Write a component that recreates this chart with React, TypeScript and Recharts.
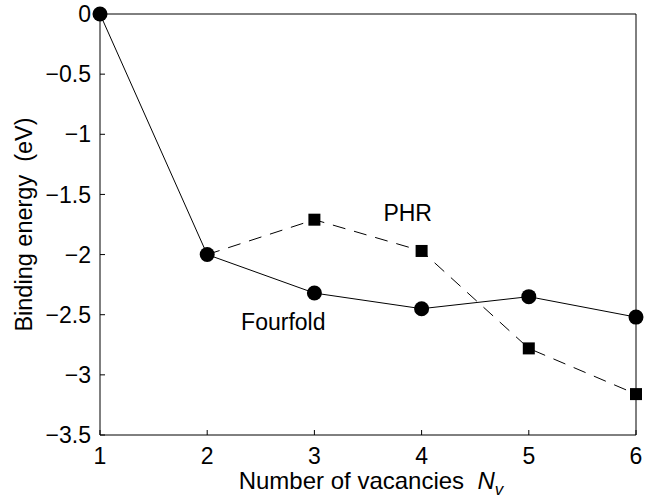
import { LineChart, Line, XAxis, YAxis, ReferenceDot } from "recharts";

// number of vacancies N_v
const vacancies = [1, 2, 3, 4, 5, 6];
// binding energies (eV)
const fourfold = [0, -2.0, -2.32, -2.45, -2.35, -2.52];
const phr = [null, -2.0, -1.71, -1.97, -2.78, -3.16];

const xTicks = [1, 2, 3, 4, 5, 6];
const yTicks = [0, -0.5, -1, -1.5, -2, -2.5, -3, -3.5];

// curve names written inside the plot: [text, x, y]
const curveLabels: [string, number, number][] = [
  ["PHR", 3.87, -1.65],
  ["Fourfold", 2.71, -2.56],
];

const data = vacancies.map((n, i) => ({ n, fourfold: fourfold[i], phr: phr[i] }));

const FONT = "'Liberation Sans', Arial, Helvetica, sans-serif";
const FS = 23;
const fmt = (v: number) => (v < 0 ? "\u2212" + String(-v) : String(v));

const Square = (props: any) => {
  const { cx, cy, index } = props;
  // at N=2 the curve starts under the Fourfold circle
  if (cx == null || cy == null || index === 1) return <g key={"s" + index} />;
  return <rect key={"s" + index} x={cx - 6} y={cy - 6} width={12} height={12} fill="#000" />;
};

export default function App() {
  return (
    <div style={{ position: "absolute", left: 0, top: 0 }}>
      <LineChart width={651} height={501} data={data} margin={{ top: 13, right: 14, bottom: 0, left: 0 }}>
        <XAxis
          dataKey="n"
          type="number"
          domain={[1, 6]}
          ticks={xTicks}
          height={66}
          stroke="#000"
          tickSize={-5}
          tickMargin={18}
          tick={{ fill: "#000", fontSize: FS, fontFamily: FONT }}
          label={{
            content: (p: any) => {
              const vb = p.viewBox || { x: 100, width: 536 };
              const cx = vb.x + vb.width / 2 + 3;
              return (
                <text x={cx} y={489} textAnchor="middle" fontSize={24} fontFamily={FONT} fill="#000" style={{ whiteSpace: "pre" }}>
                  {"Number of vacancies  "}
                  <tspan fontStyle="italic">N</tspan>
                  <tspan fontStyle="italic" fontSize={17} dy={6}>v</tspan>
                </text>
              );
            },
          }}
        />
        <XAxis
          xAxisId="top"
          orientation="top"
          dataKey="n"
          type="number"
          domain={[1, 6]}
          ticks={xTicks}
          height={1}
          stroke="#000"
          tickSize={-5}
          tick={false}
        />
        <YAxis
          type="number"
          domain={[-3.5, 0]}
          ticks={yTicks}
          width={100}
          stroke="#000"
          tickSize={-5}
          tickMargin={14}
          tickFormatter={fmt}
          tick={{ fill: "#000", fontSize: FS, fontFamily: FONT }}
          label={{
            content: (p: any) => {
              const vb = p.viewBox || { y: 14, height: 421 };
              const cy = vb.y + vb.height / 2;
              return (
                <text x={32} y={cy} transform={`rotate(-90 32 ${cy})`} textAnchor="middle" fontSize={FS + 0.5} fontFamily={FONT} fill="#000" style={{ whiteSpace: "pre" }}>
                  {"Binding energy  (eV)"}
                </text>
              );
            },
          }}
        />
        <YAxis
          yAxisId="right"
          orientation="right"
          type="number"
          domain={[-3.5, 0]}
          ticks={yTicks}
          width={1}
          stroke="#000"
          tickSize={-5}
          tick={false}
        />
        <Line
          dataKey="phr"
          stroke="#000"
          strokeWidth={1}
          strokeDasharray="13 9"
          dot={<Square />}
          activeDot={false}
          connectNulls={false}
          isAnimationActive={false}
        />
        <Line
          dataKey="fourfold"
          stroke="#000"
          strokeWidth={1}
          dot={{ r: 7.5, fill: "#000", stroke: "#000", strokeWidth: 0 }}
          activeDot={false}
          isAnimationActive={false}
        />
        {curveLabels.map(([t, x, y]) => (
          <ReferenceDot
            key={t}
            x={x}
            y={y}
            r={1}
            fill="none"
            stroke="none"
            label={{ value: t, position: "center", fontSize: FS, fontFamily: FONT, fill: "#000" }}
          />
        ))}
      </LineChart>
    </div>
  );
}
